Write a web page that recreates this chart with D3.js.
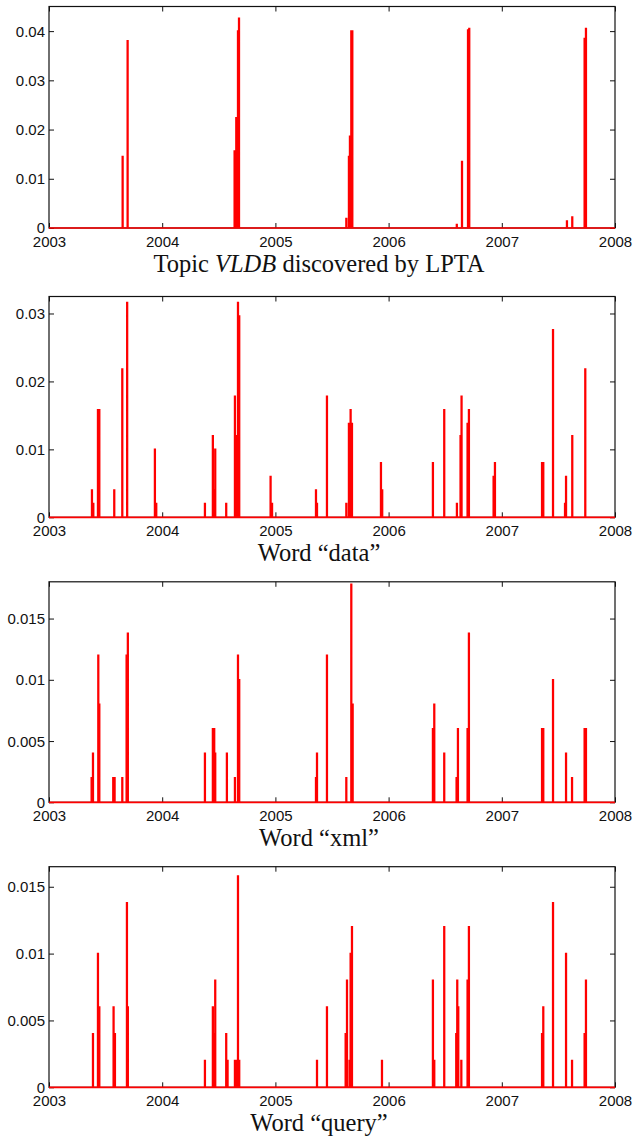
<!DOCTYPE html>
<html>
<head>
<meta charset="utf-8">
<script src="https://cdn.jsdelivr.net/npm/d3@7"></script>
<style>
  html, body { margin: 0; padding: 0; background: #fff; }
  svg { display: block; }
</style>
</head>
<body>
<svg id="chart" width="634" height="1137"></svg>
<script>
// ---- Data (decimal year, value) ----
const xTicks = [2003, 2004, 2005, 2006, 2007, 2008];

const vldbTopic = [
  [2003.648, 0.0145], [2003.692, 0.038],
  [2004.637, 0.0156], [2004.652, 0.0224], [2004.667, 0.040], [2004.676, 0.0426],
  [2005.624, 0.0019], [2005.647, 0.0145], [2005.656, 0.0186], [2005.668, 0.040], [2005.677, 0.040],
  [2006.600, 0.0007], [2006.646, 0.0135], [2006.699, 0.0402], [2006.710, 0.0405],
  [2007.573, 0.0014], [2007.620, 0.0022], [2007.729, 0.0385], [2007.741, 0.0405]
];
const vldbTicks = [0, 0.01, 0.02, 0.03, 0.04];

const wordData = [
  [2003.377, 0.004], [2003.389, 0.002], [2003.430, 0.0158], [2003.442, 0.0158],
  [2003.574, 0.004], [2003.645, 0.0218], [2003.688, 0.0316],
  [2003.933, 0.010], [2003.945, 0.002],
  [2004.375, 0.002], [2004.445, 0.012], [2004.454, 0.004], [2004.466, 0.010],
  [2004.563, 0.002], [2004.640, 0.0178], [2004.652, 0.012], [2004.667, 0.0316], [2004.678, 0.0296],
  [2004.955, 0.006], [2004.968, 0.002],
  [2005.356, 0.004], [2005.365, 0.002], [2005.453, 0.0178],
  [2005.624, 0.002], [2005.647, 0.0138], [2005.662, 0.0158], [2005.674, 0.0138],
  [2005.930, 0.008], [2005.941, 0.004],
  [2006.389, 0.008], [2006.489, 0.0158], [2006.601, 0.002], [2006.633, 0.012], [2006.642, 0.0178],
  [2006.695, 0.0138], [2006.707, 0.0158], [2006.925, 0.006], [2006.937, 0.008],
  [2007.353, 0.008], [2007.364, 0.008], [2007.450, 0.0276], [2007.556, 0.002], [2007.565, 0.006],
  [2007.620, 0.012], [2007.735, 0.0218]
];
const dataTicks = [0, 0.01, 0.02, 0.03];

const wordXml = [
  [2003.374, 0.002], [2003.386, 0.004], [2003.433, 0.012], [2003.442, 0.008],
  [2003.565, 0.002], [2003.577, 0.002], [2003.645, 0.002], [2003.683, 0.012], [2003.694, 0.0138],
  [2004.375, 0.004], [2004.445, 0.006], [2004.457, 0.006], [2004.466, 0.004],
  [2004.569, 0.004], [2004.640, 0.002], [2004.667, 0.012], [2004.678, 0.010],
  [2005.356, 0.002], [2005.365, 0.004], [2005.453, 0.012],
  [2005.624, 0.002], [2005.668, 0.0178], [2005.680, 0.008],
  [2006.389, 0.006], [2006.401, 0.008], [2006.489, 0.004], [2006.598, 0.002], [2006.610, 0.006],
  [2006.695, 0.006], [2006.707, 0.0138],
  [2007.353, 0.006], [2007.364, 0.006], [2007.450, 0.010], [2007.565, 0.004], [2007.618, 0.002],
  [2007.729, 0.006], [2007.741, 0.006]
];
const xmlTicks = [0, 0.005, 0.01, 0.015];

const wordQuery = [
  [2003.386, 0.004], [2003.430, 0.010], [2003.442, 0.006], [2003.568, 0.006], [2003.580, 0.004],
  [2003.686, 0.0138], [2003.694, 0.006],
  [2004.375, 0.002], [2004.445, 0.006], [2004.454, 0.004], [2004.466, 0.008],
  [2004.563, 0.004], [2004.575, 0.002], [2004.640, 0.002], [2004.655, 0.002], [2004.667, 0.0158], [2004.678, 0.002],
  [2005.365, 0.002], [2005.453, 0.006], [2005.618, 0.004], [2005.630, 0.008], [2005.653, 0.002],
  [2005.662, 0.010], [2005.674, 0.012], [2005.939, 0.002],
  [2006.389, 0.008], [2006.401, 0.002], [2006.489, 0.012], [2006.595, 0.004], [2006.604, 0.008],
  [2006.613, 0.006], [2006.640, 0.002], [2006.695, 0.008], [2006.707, 0.012],
  [2007.353, 0.004], [2007.364, 0.006], [2007.450, 0.0138], [2007.565, 0.010], [2007.618, 0.002],
  [2007.729, 0.004], [2007.741, 0.008]
];
const queryTicks = [0, 0.005, 0.01, 0.015];

// ---- Layout ----
const svg = d3.select("#chart");
const left = 49, right = 615;
const x = d3.scaleLinear().domain([2003, 2008]).range([left, right]);

const panels = [
  { series: vldbTopic, ticks: vldbTicks, ymax: 0.045, top: 6.5, bottom: 228,
    title: [["Topic ", "normal"], ["VLDB", "italic"], [" discovered by LPTA", "normal"]] },
  { series: wordData, ticks: dataTicks, ymax: 0.0325, top: 296.5, bottom: 517.3,
    title: [["Word \u201Cdata\u201D", "normal"]] },
  { series: wordXml, ticks: xmlTicks, ymax: 0.018, top: 581.8, bottom: 802.3,
    title: [["Word \u201Cxml\u201D", "normal"]] },
  { series: wordQuery, ticks: queryTicks, ymax: 0.0165, top: 866.7, bottom: 1087.3,
    title: [["Word \u201Cquery\u201D", "normal"]] }
];

const tickLen = 5;
const spikeW = 0.005;
const fmt = d3.format("~g");

panels.forEach((p, i) => {
  const y = d3.scaleLinear().domain([0, p.ymax]).range([p.bottom, p.top]);
  const g = svg.append("g");

  // frame
  g.append("rect")
    .attr("x", left).attr("y", p.top)
    .attr("width", right - left).attr("height", p.bottom - p.top)
    .attr("fill", "none").attr("stroke", "#111").attr("stroke-width", 1.2);

  // x axis: ticks inward at bottom, labels below
  const xAxisB = d3.axisBottom(x).tickValues(xTicks).tickSize(-tickLen).tickPadding(8).tickFormat(d3.format("d"));
  const gxb = g.append("g").attr("transform", `translate(0,${p.bottom})`).call(xAxisB);
  const xAxisT = d3.axisTop(x).tickValues(xTicks).tickSize(-tickLen).tickFormat("");
  const gxt = g.append("g").attr("transform", `translate(0,${p.top})`).call(xAxisT);

  // y axis: ticks inward left and right
  const yAxisL = d3.axisLeft(y).tickValues(p.ticks).tickSize(-tickLen).tickPadding(4).tickFormat(fmt);
  const gyl = g.append("g").attr("transform", `translate(${left},0)`).call(yAxisL);
  const yAxisR = d3.axisRight(y).tickValues(p.ticks).tickSize(-tickLen).tickFormat("");
  const gyr = g.append("g").attr("transform", `translate(${right},0)`).call(yAxisR);

  [gxb, gxt, gyl, gyr].forEach(a => {
    a.select(".domain").remove();
    a.selectAll(".tick line").attr("stroke", "#111").attr("stroke-width", 1);
    a.selectAll(".tick text")
      .attr("fill", "#111")
      .style("font-family", "'Liberation Sans', Arial, Helvetica, sans-serif")
      .style("font-size", "15px");
  });
  gyl.selectAll(".tick text").attr("dy", "0.33em");

  // series line: zero baseline with narrow flat-topped spikes
  const pts = [[2003, 0]];
  p.series.forEach(([t, v]) => {
    pts.push([t, 0], [t, v], [t + spikeW, v], [t + spikeW, 0]);
  });
  pts.push([2008, 0]);

  const line = d3.line().x(d => x(d[0])).y(d => y(d[1]));
  g.append("path")
    .datum(pts)
    .attr("d", line)
    .attr("fill", "none")
    .attr("stroke", "#ff0000")
    .attr("stroke-width", 1.7)
    .attr("stroke-linejoin", "miter");

  // title
  const t = g.append("text")
    .attr("x", 319).attr("y", p.bottom + 44)
    .attr("text-anchor", "middle")
    .style("font-family", "'Liberation Serif', 'Times New Roman', Times, serif")
    .style("font-size", "24.5px")
    .attr("fill", "#111");
  p.title.forEach(([s, st]) => {
    t.append("tspan").text(s).style("font-style", st);
  });
});
</script>
</body>
</html>
